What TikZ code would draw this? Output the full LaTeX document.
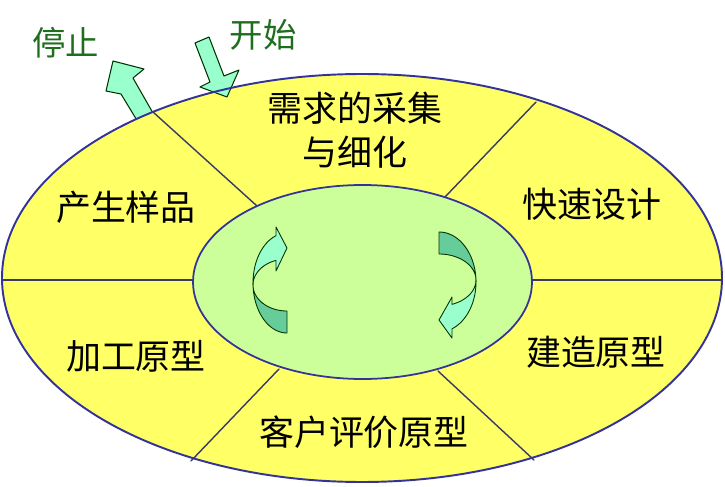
\documentclass[tikz,border=0pt]{standalone}
\usepackage{fontspec}
\newfontfamily\cjk{Noto Sans CJK SC}
\usepackage{xcolor}
\definecolor{ringfill}{HTML}{FFFF66}
\definecolor{corefill}{HTML}{CCFF99}
\definecolor{rim}{HTML}{333399}
\definecolor{divider}{HTML}{3A3A66}
\definecolor{mint}{HTML}{99FFCC}
\definecolor{seagreen}{HTML}{66CC99}
\definecolor{signgreen}{HTML}{1E6E1E}
\tikzset{
  every picture/.style={line join=round, line cap=round},
  stage/.style={font=\cjk\fontsize{19.9pt}{25pt}\selectfont, text=black, align=center, inner sep=0pt},
  sign/.style={font=\cjk\fontsize{19pt}{23pt}\selectfont, text=signgreen, inner sep=0pt},
  frontface/.style={fill=mint, draw=black!80!green, line width=0.5pt},
  backface/.style={fill=seagreen, draw=black!80!green, line width=0.5pt},
  blockarrow/.style={fill=mint, draw=black!80!green, line width=0.6pt},
}

\begin{document}
\begin{tikzpicture}[x=0.02cm,y=-0.02cm]
\useasboundingbox (0,0) rectangle (725,487);
% exit arrow, under the ring
\filldraw[blockarrow](141,127)--(121,94)--(106,91)--(113,61)--(144,69)--(133,78)--(157,120)--cycle;
% ring and core
\fill[ringfill](362,278) ellipse [x radius=360, y radius=204];
\draw[divider,line width=0.8pt](2,280)--(193,280);
\draw[divider,line width=0.8pt](532,280)--(722,280);
\draw[divider,line width=0.8pt](153,112)--(257,206);
\draw[divider,line width=0.8pt](536,102)--(445,197);
\draw[divider,line width=0.8pt](279,369)--(191,461);
\draw[divider,line width=0.8pt](438,371)--(534,460);
\filldraw[fill=corefill,draw=rim,line width=1pt](362.5,282) ellipse [x radius=169.5, y radius=97];
% entry arrow
\filldraw[blockarrow](195,43)--(209,37)--(224,76)--(239,70)--(227,97)--(200,87)--(210,82)--cycle;
\draw[rim,line width=1.1pt](362,278) ellipse [x radius=360, y radius=204];
% left turning arrow
\filldraw[backface]plot[domain=180:90,variable=\x]({287+34*cos(\x)},{283+50*sin(\x)})--plot[domain=90:180,variable=\x]({287+34*cos(\x)},{285+26*sin(\x)})--cycle;
\filldraw[frontface]plot[domain=180:251.1,variable=\x]({287+34*cos(\x)},{283+50*sin(\x)})--(276,227)--(287,248)--(276,271)--plot[domain=251.1:180,variable=\x]({287+34*cos(\x)},{285+26*sin(\x)})--cycle;
% right turning arrow
\filldraw[backface]plot[domain=270:360,variable=\x]({439+37*cos(\x)},{282+50*sin(\x)})--plot[domain=360:270,variable=\x]({439+37*cos(\x)},{280+26*sin(\x)})--cycle;
\filldraw[frontface]plot[domain=0:69.4,variable=\x]({439+37*cos(\x)},{282+50*sin(\x)})--(452,338)--(439,320)--(452,297)--plot[domain=69.4:0,variable=\x]({439+37*cos(\x)},{280+26*sin(\x)})--cycle;
% labels
\node[sign](stop) at (66,43){停止};
\node[sign](start) at (263,35){开始};
\node[stage](collect) at (355,130){需求的采集\\与细化};
\node[stage](design) at (592,204){快速设计};
\node[stage](sample) at (126,207){产生样品};
\node[stage](refine) at (136,356){加工原型};
\node[stage](build) at (596,352){建造原型};
\node[stage](review) at (364,432){客户评价原型};
\end{tikzpicture}
\end{document}
